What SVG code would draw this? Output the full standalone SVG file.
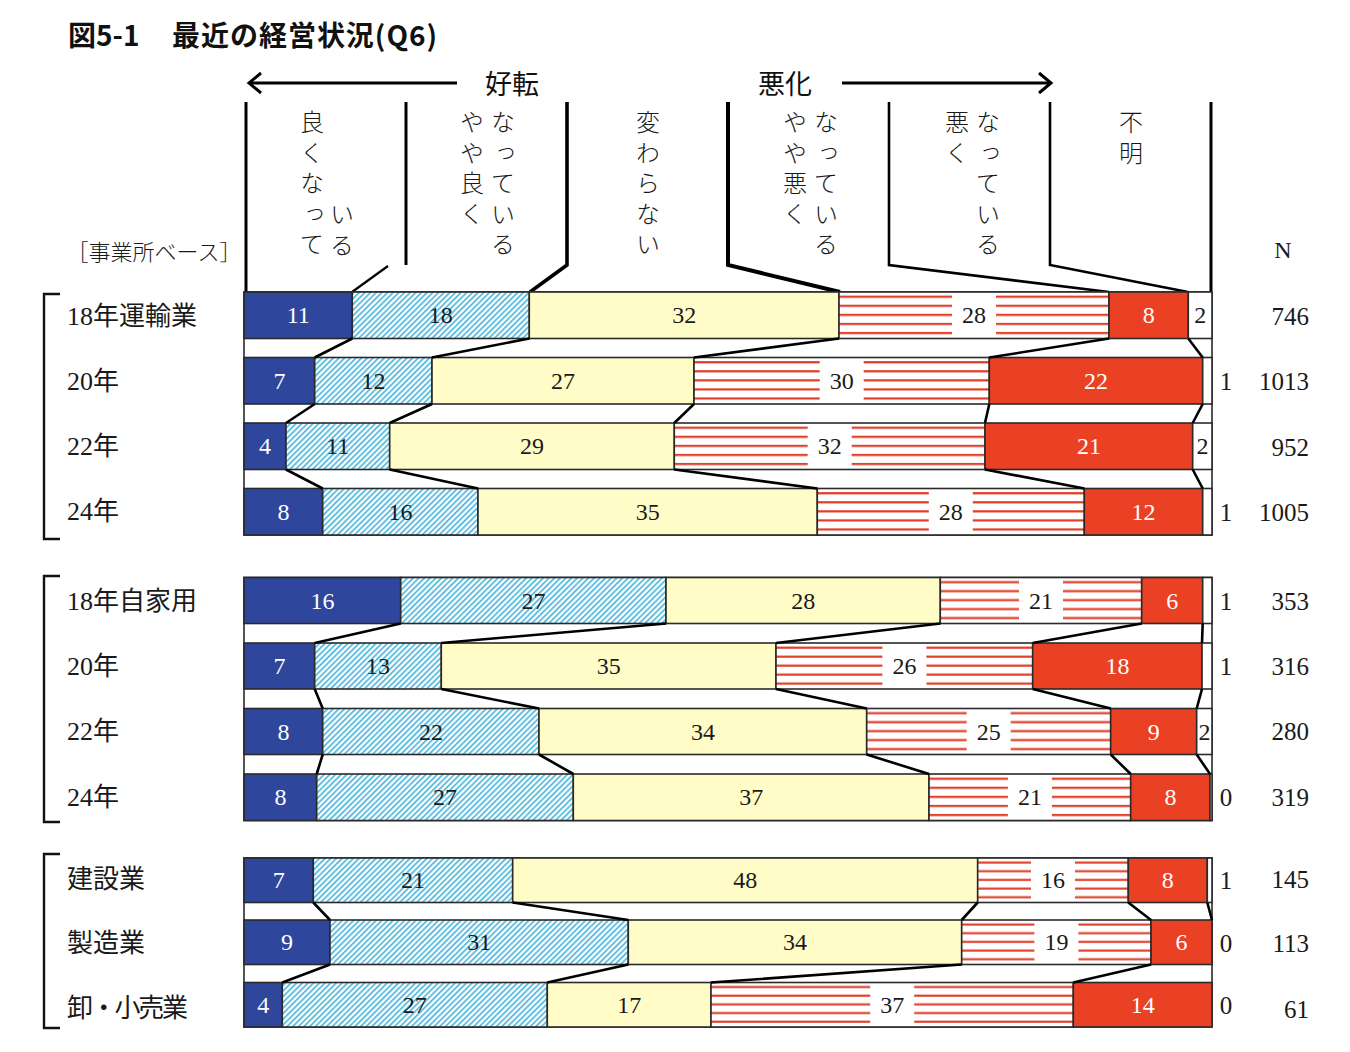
<svg xmlns="http://www.w3.org/2000/svg" width="1350" height="1052" viewBox="0 0 1350 1052">
<style>
.b{fill:#2e469c;stroke:#2a2a2a;stroke-width:1.6}
.h{fill:url(#hatch);stroke:#2a2a2a;stroke-width:1.6}
.y{fill:#fffcc8;stroke:#2a2a2a;stroke-width:1.6}
.s{fill:url(#stripe);stroke:#2a2a2a;stroke-width:1.6}
.r{fill:#ea4124;stroke:#2a2a2a;stroke-width:1.6}
.w{fill:#fff;stroke:#2a2a2a;stroke-width:1.6}
.frame{fill:#fff;stroke:#2a2a2a;stroke-width:1.6}
.lb{fill:#fff}
.t{font-family:"Liberation Serif","Noto Sans CJK JP",serif;font-size:24px;text-anchor:middle;dominant-baseline:central}
.lw{fill:#fff}
.ld{fill:#1a1a1a}
.o{font-family:"Liberation Serif",serif;font-size:25px;text-anchor:middle;dominant-baseline:central;fill:#1a1a1a}
.n{font-family:"Liberation Serif",serif;font-size:25px;text-anchor:end;dominant-baseline:central;fill:#1a1a1a}
.rl{font-family:"Liberation Serif","Noto Sans CJK JP",sans-serif;font-size:26px;dominant-baseline:central;fill:#1a1a1a}
.vt{font-family:"Noto Sans CJK JP",sans-serif;font-size:24px;writing-mode:vertical-rl;text-orientation:upright;letter-spacing:6.5px;fill:#1a1a1a;font-weight:300}
.hd{font-family:"Noto Sans CJK JP",sans-serif;font-size:27px;text-anchor:middle;dominant-baseline:central;fill:#111}
.ti{font-family:"Noto Sans CJK JP",sans-serif;font-size:28px;font-weight:700;dominant-baseline:central;fill:#111}
.conn{stroke:#000;stroke-width:2.6;fill:none;stroke-linejoin:miter}
.hl{stroke:#000;stroke-width:3;fill:none}
.br{stroke:#111;stroke-width:2.4;fill:none}
</style>
<defs>
<pattern id="hatch" patternUnits="userSpaceOnUse" width="4" height="4" patternTransform="rotate(45)">
<rect width="4" height="4" fill="#fff"/>
<rect width="1.6" height="4" fill="#44b3db"/>
</pattern>
<pattern id="stripe" patternUnits="objectBoundingBox" patternContentUnits="objectBoundingBox" width="1" height="0.195">
<rect width="1" height="0.195" fill="#fff"/>
<rect y="0.078" width="1" height="0.048" fill="#e0402a"/>
</pattern>
</defs>
<rect width="1350" height="1052" fill="#fff"/>

<g id="title">
<text class="ti" x="68" y="34">図5-1</text>
<text class="ti" x="172" y="34" textLength="265">最近の経営状況(Q6)</text>
</g>

<g id="header">
<line class="hl" x1="250" y1="83" x2="457" y2="83"/>
<polyline class="hl" points="261,73 249,83 261,93"/>
<text class="hd" x="512" y="82">好転</text>
<text class="hd" x="785" y="82">悪化</text>
<line class="hl" x1="842" y1="83" x2="1049" y2="83"/>
<polyline class="hl" points="1039,73 1051,83 1039,93"/>
<path class="hl" d="M246,102 V292"/>
<path class="hl" d="M406,102 V265"/>
<path class="hl" d="M388,266 L352,292" style="stroke-width:2.2"/>
<path class="hl" d="M567,102 V265 L530,292" style="stroke-width:3.6"/>
<path class="hl" d="M728,102 V265 L840,292" style="stroke-width:4"/>
<path class="hl" d="M889,102 V265 L1109,292" style="stroke-width:2.6"/>
<path class="hl" d="M1050,102 V265 L1188,292" style="stroke-width:2.6"/>
<path class="hl" d="M1211,102 V292"/>
<g id="col1">
<text class="vt" x="312" y="110">良くなって</text>
<text class="vt" x="342" y="202">いる</text>
</g>
<g id="col2">
<text class="vt" x="472" y="110">やや良く</text>
<text class="vt" x="503" y="110">なっている</text>
</g>
<g id="col3">
<text class="vt" x="648" y="110">変わらない</text>
</g>
<g id="col4">
<text class="vt" x="795" y="110">やや悪く</text>
<text class="vt" x="826" y="110">なっている</text>
</g>
<g id="col5">
<text class="vt" x="957" y="110">悪く</text>
<text class="vt" x="988" y="110">なっている</text>
</g>
<g id="col6">
<text class="vt" x="1131" y="110">不明</text>
</g>
<text x="154" y="250" style="font-family:'Noto Sans CJK JP',sans-serif;font-size:22px;text-anchor:middle;dominant-baseline:central;font-weight:300" fill="#1a1a1a">［事業所ベース］</text>
<text x="1283" y="250" style="font-family:'Liberation Serif',serif;font-size:24px;text-anchor:middle;dominant-baseline:central" fill="#1a1a1a">N</text>
</g>

<g id="brackets">
<path class="br" d="M60,294 H44 V539 H60"/>
<path class="br" d="M60,576 H44 V822 H60"/>
<path class="br" d="M60,854 H44 V1028 H60"/>
</g>

<g id="frames">
<rect class="frame" x="244" y="292" width="968" height="243"/>
<rect class="frame" x="244" y="577.5" width="968" height="243"/>
<rect class="frame" x="244" y="858" width="968" height="169"/>
</g>

<g id="g1-r1">
<text class="rl" x="67" y="316">18年運輸業</text>
<rect class="b" x="244" y="292" width="108.3" height="46.5"/>
<rect class="h" x="352.3" y="292" width="177" height="46.5"/>
<rect class="y" x="529.3" y="292" width="309.7" height="46.5"/>
<rect class="s" x="839" y="292" width="270" height="46.5"/>
<rect class="r" x="1109" y="292" width="79.3" height="46.5"/>
<rect class="w" x="1188.3" y="292" width="23.7" height="46.5"/>
<rect class="lb" x="952" y="293.5" width="44" height="43.5"/>
<text class="t lw" x="298.2" y="315.3">11</text>
<text class="t ld" x="440.8" y="315.3">18</text>
<text class="t ld" x="684.2" y="315.3">32</text>
<text class="t ld" x="974" y="315.3">28</text>
<text class="t lw" x="1148.7" y="315.3">8</text>
<text class="t ld" x="1200.2" y="315.3">2</text>
<text class="n" x="1309" y="316">746</text>
</g>

<g id="g1-r2">
<text class="rl" x="67" y="381">20年</text>
<rect class="b" x="244" y="357.5" width="70.7" height="46.5"/>
<rect class="h" x="314.7" y="357.5" width="117.3" height="46.5"/>
<rect class="y" x="432" y="357.5" width="262" height="46.5"/>
<rect class="s" x="694" y="357.5" width="295.3" height="46.5"/>
<rect class="r" x="989.3" y="357.5" width="213.4" height="46.5"/>
<rect class="w" x="1202.7" y="357.5" width="9.3" height="46.5"/>
<rect class="lb" x="819.7" y="359" width="44" height="43.5"/>
<text class="t lw" x="279.4" y="380.8">7</text>
<text class="t ld" x="373.4" y="380.8">12</text>
<text class="t ld" x="563" y="380.8">27</text>
<text class="t ld" x="841.7" y="380.8">30</text>
<text class="t lw" x="1096" y="380.8">22</text>
<text class="o" x="1226" y="381">1</text>
<text class="n" x="1309" y="381">1013</text>
</g>

<g id="g1-r3">
<text class="rl" x="67" y="446">22年</text>
<rect class="b" x="244" y="423" width="42" height="46.5"/>
<rect class="h" x="286" y="423" width="103.7" height="46.5"/>
<rect class="y" x="389.7" y="423" width="284.6" height="46.5"/>
<rect class="s" x="674.3" y="423" width="310.7" height="46.5"/>
<rect class="r" x="985" y="423" width="207.7" height="46.5"/>
<rect class="w" x="1192.7" y="423" width="19.3" height="46.5"/>
<rect class="lb" x="807.7" y="424.5" width="44" height="43.5"/>
<text class="t lw" x="265" y="446.3">4</text>
<text class="t ld" x="337.9" y="446.3">11</text>
<text class="t ld" x="532" y="446.3">29</text>
<text class="t ld" x="829.7" y="446.3">32</text>
<text class="t lw" x="1088.9" y="446.3">21</text>
<text class="t ld" x="1202.4" y="446.3">2</text>
<text class="n" x="1309" y="447">952</text>
</g>

<g id="g1-r4">
<text class="rl" x="67" y="511">24年</text>
<rect class="b" x="244" y="488.5" width="78.7" height="46.5"/>
<rect class="h" x="322.7" y="488.5" width="155.3" height="46.5"/>
<rect class="y" x="478" y="488.5" width="339.3" height="46.5"/>
<rect class="s" x="817.3" y="488.5" width="267" height="46.5"/>
<rect class="r" x="1084.3" y="488.5" width="118.4" height="46.5"/>
<rect class="w" x="1202.7" y="488.5" width="9.3" height="46.5"/>
<rect class="lb" x="928.8" y="490" width="44" height="43.5"/>
<text class="t lw" x="283.4" y="511.8">8</text>
<text class="t ld" x="400.4" y="511.8">16</text>
<text class="t ld" x="647.7" y="511.8">35</text>
<text class="t ld" x="950.8" y="511.8">28</text>
<text class="t lw" x="1143.5" y="511.8">12</text>
<text class="o" x="1226" y="512">1</text>
<text class="n" x="1309" y="512">1005</text>
</g>

<g id="g2-r1">
<text class="rl" x="67" y="601">18年自家用</text>
<rect class="b" x="244" y="577.5" width="156.7" height="46"/>
<rect class="h" x="400.7" y="577.5" width="265.3" height="46"/>
<rect class="y" x="666" y="577.5" width="274.3" height="46"/>
<rect class="s" x="940.3" y="577.5" width="201.4" height="46"/>
<rect class="r" x="1141.7" y="577.5" width="61" height="46"/>
<rect class="w" x="1202.7" y="577.5" width="9.3" height="46"/>
<rect class="lb" x="1019" y="579" width="44" height="43"/>
<text class="t lw" x="322.4" y="600.5">16</text>
<text class="t ld" x="533.4" y="600.5">27</text>
<text class="t ld" x="803.2" y="600.5">28</text>
<text class="t ld" x="1041" y="600.5">21</text>
<text class="t lw" x="1172.2" y="600.5">6</text>
<text class="o" x="1226" y="601">1</text>
<text class="n" x="1309" y="601">353</text>
</g>

<g id="g2-r2">
<text class="rl" x="67" y="666">20年</text>
<rect class="b" x="244" y="643" width="70.7" height="46"/>
<rect class="h" x="314.7" y="643" width="126.6" height="46"/>
<rect class="y" x="441.3" y="643" width="334.7" height="46"/>
<rect class="s" x="776" y="643" width="256.7" height="46"/>
<rect class="r" x="1032.7" y="643" width="169.3" height="46"/>
<rect class="w" x="1202" y="643" width="10" height="46"/>
<rect class="lb" x="882.4" y="644.5" width="44" height="43"/>
<text class="t lw" x="279.4" y="666">7</text>
<text class="t ld" x="378" y="666">13</text>
<text class="t ld" x="608.7" y="666">35</text>
<text class="t ld" x="904.4" y="666">26</text>
<text class="t lw" x="1117.4" y="666">18</text>
<text class="o" x="1226" y="666">1</text>
<text class="n" x="1309" y="666">316</text>
</g>

<g id="g2-r3">
<text class="rl" x="67" y="731">22年</text>
<rect class="b" x="244" y="708.5" width="78.7" height="46"/>
<rect class="h" x="322.7" y="708.5" width="216.3" height="46"/>
<rect class="y" x="539" y="708.5" width="327.7" height="46"/>
<rect class="s" x="866.7" y="708.5" width="244" height="46"/>
<rect class="r" x="1110.7" y="708.5" width="86" height="46"/>
<rect class="w" x="1196.7" y="708.5" width="15.3" height="46"/>
<rect class="lb" x="966.7" y="710" width="44" height="43"/>
<text class="t lw" x="283.4" y="731.5">8</text>
<text class="t ld" x="430.9" y="731.5">22</text>
<text class="t ld" x="702.9" y="731.5">34</text>
<text class="t ld" x="988.7" y="731.5">25</text>
<text class="t lw" x="1153.7" y="731.5">9</text>
<text class="t ld" x="1204.4" y="731.5">2</text>
<text class="n" x="1309" y="731">280</text>
</g>

<g id="g2-r4">
<text class="rl" x="67" y="797">24年</text>
<rect class="b" x="244" y="774" width="72.7" height="46.5"/>
<rect class="h" x="316.7" y="774" width="256.6" height="46.5"/>
<rect class="y" x="573.3" y="774" width="355.7" height="46.5"/>
<rect class="s" x="929" y="774" width="201.7" height="46.5"/>
<rect class="r" x="1130.7" y="774" width="79.3" height="46.5"/>
<rect class="w" x="1210" y="774" width="2" height="46.5"/>
<rect class="lb" x="1007.9" y="775.5" width="44" height="43.5"/>
<text class="t lw" x="280.4" y="797.3">8</text>
<text class="t ld" x="445" y="797.3">27</text>
<text class="t ld" x="751.2" y="797.3">37</text>
<text class="t ld" x="1029.9" y="797.3">21</text>
<text class="t lw" x="1170.4" y="797.3">8</text>
<text class="o" x="1226" y="797">0</text>
<text class="n" x="1309" y="797">319</text>
</g>

<g id="g3-r1">
<text class="rl" x="67" y="879">建設業</text>
<rect class="b" x="244" y="858" width="69.3" height="44.5"/>
<rect class="h" x="313.3" y="858" width="199.4" height="44.5"/>
<rect class="y" x="512.7" y="858" width="465" height="44.5"/>
<rect class="s" x="977.7" y="858" width="150.6" height="44.5"/>
<rect class="r" x="1128.3" y="858" width="79" height="44.5"/>
<rect class="w" x="1207.3" y="858" width="4.7" height="44.5"/>
<rect class="lb" x="1031" y="859.5" width="44" height="41.5"/>
<text class="t lw" x="278.7" y="880.3">7</text>
<text class="t ld" x="413" y="880.3">21</text>
<text class="t ld" x="745.2" y="880.3">48</text>
<text class="t ld" x="1053" y="880.3">16</text>
<text class="t lw" x="1167.8" y="880.3">8</text>
<text class="o" x="1226" y="880">1</text>
<text class="n" x="1309" y="879">145</text>
</g>

<g id="g3-r2">
<text class="rl" x="67" y="943">製造業</text>
<rect class="b" x="244" y="920" width="86" height="44.5"/>
<rect class="h" x="330" y="920" width="298.3" height="44.5"/>
<rect class="y" x="628.3" y="920" width="333.4" height="44.5"/>
<rect class="s" x="961.7" y="920" width="189.3" height="44.5"/>
<rect class="r" x="1151" y="920" width="61" height="44.5"/>
<rect class="lb" x="1034.4" y="921.5" width="44" height="41.5"/>
<text class="t lw" x="287" y="942.3">9</text>
<text class="t ld" x="479.2" y="942.3">31</text>
<text class="t ld" x="795" y="942.3">34</text>
<text class="t ld" x="1056.4" y="942.3">19</text>
<text class="t lw" x="1181.5" y="942.3">6</text>
<text class="o" x="1226" y="943">0</text>
<text class="n" x="1309" y="943">113</text>
</g>

<g id="g3-r3">
<text class="rl" x="67" y="1008" textLength="121">卸・小売業</text>
<rect class="b" x="244" y="982.5" width="38.3" height="44.5"/>
<rect class="h" x="282.3" y="982.5" width="265" height="44.5"/>
<rect class="y" x="547.3" y="982.5" width="163.7" height="44.5"/>
<rect class="s" x="711" y="982.5" width="362.3" height="44.5"/>
<rect class="r" x="1073.3" y="982.5" width="138.7" height="44.5"/>
<rect class="lb" x="870.2" y="984" width="44" height="41.5"/>
<text class="t lw" x="263.2" y="1004.8">4</text>
<text class="t ld" x="414.8" y="1004.8">27</text>
<text class="t ld" x="629.2" y="1004.8">17</text>
<text class="t ld" x="892.2" y="1004.8">37</text>
<text class="t lw" x="1142.7" y="1004.8">14</text>
<text class="o" x="1226" y="1005">0</text>
<text class="n" x="1309" y="1009">61</text>
</g>

<g id="connectors" class="conn">
<path d="M352.3,338.5 L314.7,357.5 M529.3,338.5 L432,357.5 M839,338.5 L694,357.5 M1109,338.5 L989.3,357.5 M1188.3,338.5 L1202.7,357.5"/>
<path d="M314.7,404 L286,423 M432,404 L389.7,423 M694,404 L674.3,423 M989.3,404 L985,423 M1202.7,404 L1192.7,423"/>
<path d="M286,469.5 L322.7,488.5 M389.7,469.5 L478,488.5 M674.3,469.5 L817.3,488.5 M985,469.5 L1084.3,488.5 M1192.7,469.5 L1202.7,488.5"/>
<path d="M400.7,623.5 L314.7,643 M666,623.5 L441.3,643 M940.3,623.5 L776,643 M1141.7,623.5 L1032.7,643 M1202.7,623.5 L1202,643"/>
<path d="M314.7,689 L322.7,708.5 M441.3,689 L539,708.5 M776,689 L866.7,708.5 M1032.7,689 L1110.7,708.5 M1202,689 L1196.7,708.5"/>
<path d="M322.7,754.5 L316.7,774 M539,754.5 L573.3,774 M866.7,754.5 L929,774 M1110.7,754.5 L1130.7,774 M1196.7,754.5 L1210,774"/>
<path d="M313.3,902.5 L330,920 M512.7,902.5 L628.3,920 M977.7,902.5 L961.7,920 M1128.3,902.5 L1151,920 M1207.3,902.5 L1212,920"/>
<path d="M330,964.5 L282.3,982.5 M628.3,964.5 L547.3,982.5 M961.7,964.5 L711,982.5 M1151,964.5 L1073.3,982.5"/>
</g>
</svg>
